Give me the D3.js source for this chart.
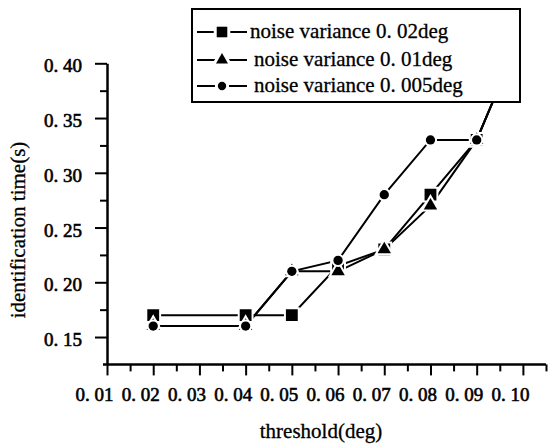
<!DOCTYPE html>
<html>
<head>
<meta charset="utf-8">
<script src="https://cdn.jsdelivr.net/npm/d3@7"></script>
</head>
<body style="margin:0">
<svg id="chart" width="549" height="445"></svg>
<script>
// ---- data ----
const thresholds = [0.02, 0.04, 0.05, 0.06, 0.07, 0.08, 0.09, 0.10];
const variance002 = [0.17, 0.17, 0.17, 0.215, 0.23, 0.28, 0.33, 0.43];
const variance001 = [0.16, 0.16, 0.21, 0.21, 0.23, 0.27, 0.33, 0.43];
const variance0005 = [0.16, 0.16, 0.21, 0.22, 0.28, 0.33, 0.33, 0.43];
const seriesNames = ["noise variance 0. 02deg", "noise variance 0. 01deg", "noise variance 0. 005deg"];

const xTicks = [0.01, 0.02, 0.03, 0.04, 0.05, 0.06, 0.07, 0.08, 0.09, 0.10];
const xTickLabels = ["0. 01", "0. 02", "0. 03", "0. 04", "0. 05", "0. 06", "0. 07", "0. 08", "0. 09", "0. 10"];
const xMinorTicks = [0.015, 0.025, 0.035, 0.045, 0.055, 0.065, 0.075, 0.085, 0.095, 0.105];
const yTicks = [0.15, 0.20, 0.25, 0.30, 0.35, 0.40];
const yTickLabels = ["0. 15", "0. 20", "0. 25", "0. 30", "0. 35", "0. 40"];
const yMinorTicks = [0.175, 0.225, 0.275, 0.325, 0.375];
const xTitle = "threshold(deg)";
const yTitle = "identification time(s)";

const FONT = "'Liberation Serif', 'Times New Roman', Times, Tinos, serif";

// ---- scales ----
const x = d3.scaleLinear().domain([0.01, 0.105]).range([107, 546]);
const y = d3.scaleLinear().domain([0.125, 0.40]).range([364.4, 63.3]);

const svg = d3.select("#chart").attr("font-family", FONT).style("font-family", FONT);

// clip to plot area
svg.append("defs").append("clipPath").attr("id", "plotClip")
  .append("rect")
  .attr("x", x(0.01) - 10).attr("y", y(0.40))
  .attr("width", x(0.105) - x(0.01) + 20).attr("height", y(0.125) - y(0.40) + 10);

const series = [
  { name: seriesNames[0], values: variance002, type: d3.symbolSquare, size: 140 },
  { name: seriesNames[1], values: variance001, type: d3.symbolTriangle, size: 78 },
  { name: seriesNames[2], values: variance0005, type: d3.symbolCircle, size: 68 }
];

const plot = svg.append("g").attr("clip-path", "url(#plotClip)");
const line = d3.line().x(d => x(d[0])).y(d => y(d[1]));

series.forEach(s => {
  const pts = thresholds.map((t, i) => [t, s.values[i]]);
  plot.append("path").datum(pts)
    .attr("d", line)
    .attr("fill", "none").attr("stroke", "#000").attr("stroke-width", 2);
});
series.forEach(s => {
  const pts = thresholds.map((t, i) => [t, s.values[i]]);
  const sym = d3.symbol().type(s.type).size(s.size);
  plot.append("g").selectAll("path.halo").data(pts).join("path")
    .attr("transform", d => `translate(${x(d[0])},${y(d[1])})`)
    .attr("d", sym).attr("fill", "#fff").attr("stroke", "#fff").attr("stroke-width", 4);
  plot.append("g").selectAll("path.m").data(pts).join("path")
    .attr("transform", d => `translate(${x(d[0])},${y(d[1])})`)
    .attr("d", sym).attr("fill", "#000");
});

function styleText(sel, size, thick) {
  sel.attr("font-family", FONT).style("font-family", FONT)
     .attr("font-size", size).style("font-size", size + "px").attr("fill", "#000")
     .attr("stroke", "#000").attr("stroke-width", thick);
}

// ---- axes ----
const xAxisG = svg.append("g").attr("transform", `translate(0,${y(0.125)})`);
xAxisG.call(d3.axisBottom(x).tickValues(xTicks).tickSize(11).tickSizeOuter(0)
  .tickFormat((d, i) => xTickLabels[i]));
xAxisG.append("g").call(d3.axisBottom(x).tickValues(xMinorTicks).tickSize(7).tickSizeOuter(0).tickFormat(""))
  .select(".domain").remove();
xAxisG.selectAll(".domain").attr("stroke-width", 2.5).attr("d", `M${x(0.01) - 4},0H${x(0.105)}`);
xAxisG.selectAll(".tick line").attr("stroke-width", 2);
xAxisG.attr("font-family", FONT);
styleText(xAxisG.selectAll(".tick text").attr("y", 37).attr("dy", 0).attr("dx", -13), 19, 0.6);

const yAxisG = svg.append("g").attr("transform", `translate(${x(0.01)},0)`);
yAxisG.call(d3.axisLeft(y).tickValues(yTicks).tickSize(12).tickSizeOuter(0)
  .tickFormat((d, i) => yTickLabels[i]));
yAxisG.append("g").call(d3.axisLeft(y).tickValues(yMinorTicks).tickSize(7).tickSizeOuter(0).tickFormat(""))
  .select(".domain").remove();
yAxisG.selectAll(".domain").attr("stroke-width", 2.5);
yAxisG.selectAll(".tick line").attr("stroke-width", 2);
yAxisG.attr("font-family", FONT);
styleText(yAxisG.selectAll(".tick text").attr("x", -25).attr("dy", "0.45em"), 19, 0.6);

// axis titles
styleText(svg.append("text").attr("x", 321).attr("y", 438).attr("text-anchor", "middle").text(xTitle), 21, 0.3);
styleText(svg.append("text").attr("transform", "translate(25,230) rotate(-90)").attr("text-anchor", "middle").text(yTitle), 21, 0.3);

// ---- legend ----
const lg = svg.append("g");
lg.append("rect").attr("x", 192).attr("y", 9).attr("width", 328).attr("height", 93)
  .attr("fill", "#fff").attr("stroke", "#000").attr("stroke-width", 2);
const legRows = [32, 60, 86];
const legTextX = [250, 254, 254];
series.forEach((s, i) => {
  const cy = legRows[i];
  lg.append("line").attr("x1", 197).attr("x2", 247).attr("y1", cy).attr("y2", cy)
    .attr("stroke", "#000").attr("stroke-width", 2);
  const sym = d3.symbol().type(s.type).size(s.size * 0.8);
  lg.append("path").attr("transform", `translate(222,${cy})`).attr("d", sym)
    .attr("fill", "#fff").attr("stroke", "#fff").attr("stroke-width", 6);
  lg.append("path").attr("transform", `translate(222,${cy})`).attr("d", sym).attr("fill", "#000");
  styleText(lg.append("text").attr("x", legTextX[i]).attr("y", cy + 6).text(s.name), 21, 0.3);
});
</script>
</body>
</html>
